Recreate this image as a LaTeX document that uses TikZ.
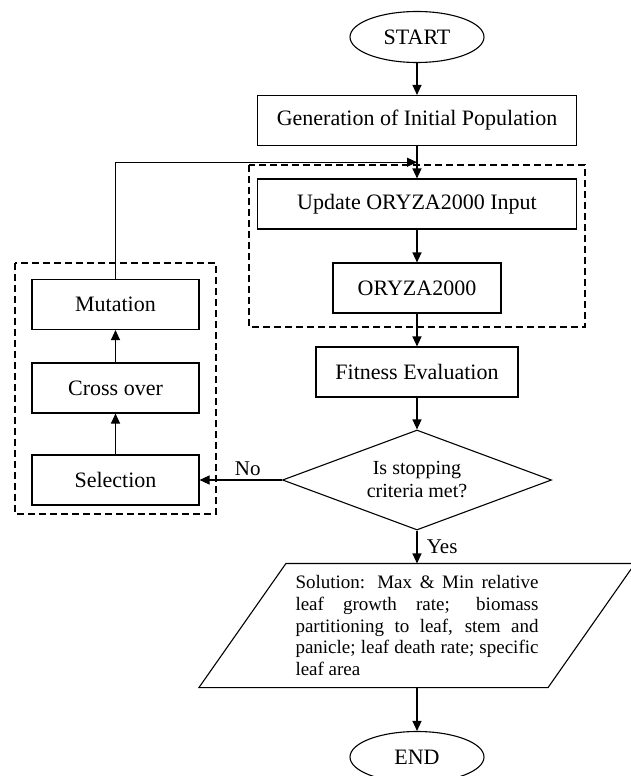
\documentclass[tikz,border=0pt]{standalone}
\usepackage{fontspec}
\setmainfont{Liberation Serif}
\usetikzlibrary{shapes.geometric, arrows.meta, calc}

\tikzset{
    flowbox/.style={rectangle, draw, minimum height=50pt, inner sep=0pt, font=\fontsize{22}{26}\selectfont},
    terminal/.style={ellipse, draw, minimum width=134pt, minimum height=51pt, inner sep=0pt, font=\fontsize{22}{26}\selectfont},
    decision/.style={diamond, draw, aspect=2.7, minimum width=269pt, minimum height=100pt, inner sep=0pt, align=center, font=\fontsize{20}{23}\selectfont},
    flow/.style={-{Triangle[length=10pt, width=9pt]}},
    dashgroup/.style={draw, dash pattern=on 7pt off 4pt},
    lbl/.style={font=\fontsize{21}{24}\selectfont}
}

\begin{document}
\begin{tikzpicture}[x=1pt, y=-1pt, line width=1.1pt]
        \useasboundingbox (0,0) rectangle (630,776);

        % Nodes
        \node[terminal] (start) at (417,37) {START};
        \node[flowbox, minimum width=319pt] (gen) at (417,120.5) {Generation of Initial Population};
        \node[flowbox, minimum width=319pt] (upd) at (417,204) {Update ORYZA2000 Input};
        \node[flowbox, minimum width=168pt] (oryza) at (417,288) {ORYZA2000};
        \node[flowbox, minimum width=202pt] (fit) at (417,372) {Fitness Evaluation};
        \node[decision] (stop) at (417,480) {Is stopping\\criteria met?};
        \node[rectangle, minimum width=261pt, minimum height=123pt, text width=243pt, align=justify,
              font=\fontsize{19}{21.7}\selectfont] (sol) at (417,625.5)
              {Solution: Max \& Min relative\linebreak leaf growth rate; biomass\linebreak partitioning to leaf, stem and\linebreak panicle; leaf death rate; specific\linebreak leaf area};
        \node[terminal] (end) at (417,757) {END};
        \node[flowbox, minimum width=167pt] (mut) at (115.5,304.5) {Mutation};
        \node[flowbox, minimum width=167pt] (cross) at (115.5,388) {Cross over};
        \node[flowbox, minimum width=167pt] (sel) at (115.5,480) {Selection};
        \coordinate (join) at ($(gen.south)!0.5!(upd.north)$);

        % Parallelogram round the solution
        \draw ($(sol.south west)+(-87,0)$) -- (sol.south east) -- ($(sol.north east)+(87,0)$) -- (sol.north west) -- cycle;

        % Dashed groups
        \draw[dashgroup] (249,165) rectangle (585,327);
        \draw[dashgroup] (15,263) rectangle (216,514);

        % Lines
        \draw[flow] (start) -- (gen);
        \draw[flow] (gen) -- (upd);
        \draw[flow] (upd) -- (oryza);
        \draw[flow] (oryza) -- (fit);
        \draw[flow] (fit) -- (stop);
        \draw[flow] (stop) -- node[lbl, right, xshift=6pt] {Yes} (sol);
        \draw[flow] (sol) -- (end);
        \draw[flow] (stop) -- node[lbl, above, xshift=7pt] {No} (sel);
        \draw[flow] (sel) -- (cross);
        \draw[flow] (cross) -- (mut);
        \draw[flow] (mut.north) |- (join);
    \end{tikzpicture}
\end{document}
